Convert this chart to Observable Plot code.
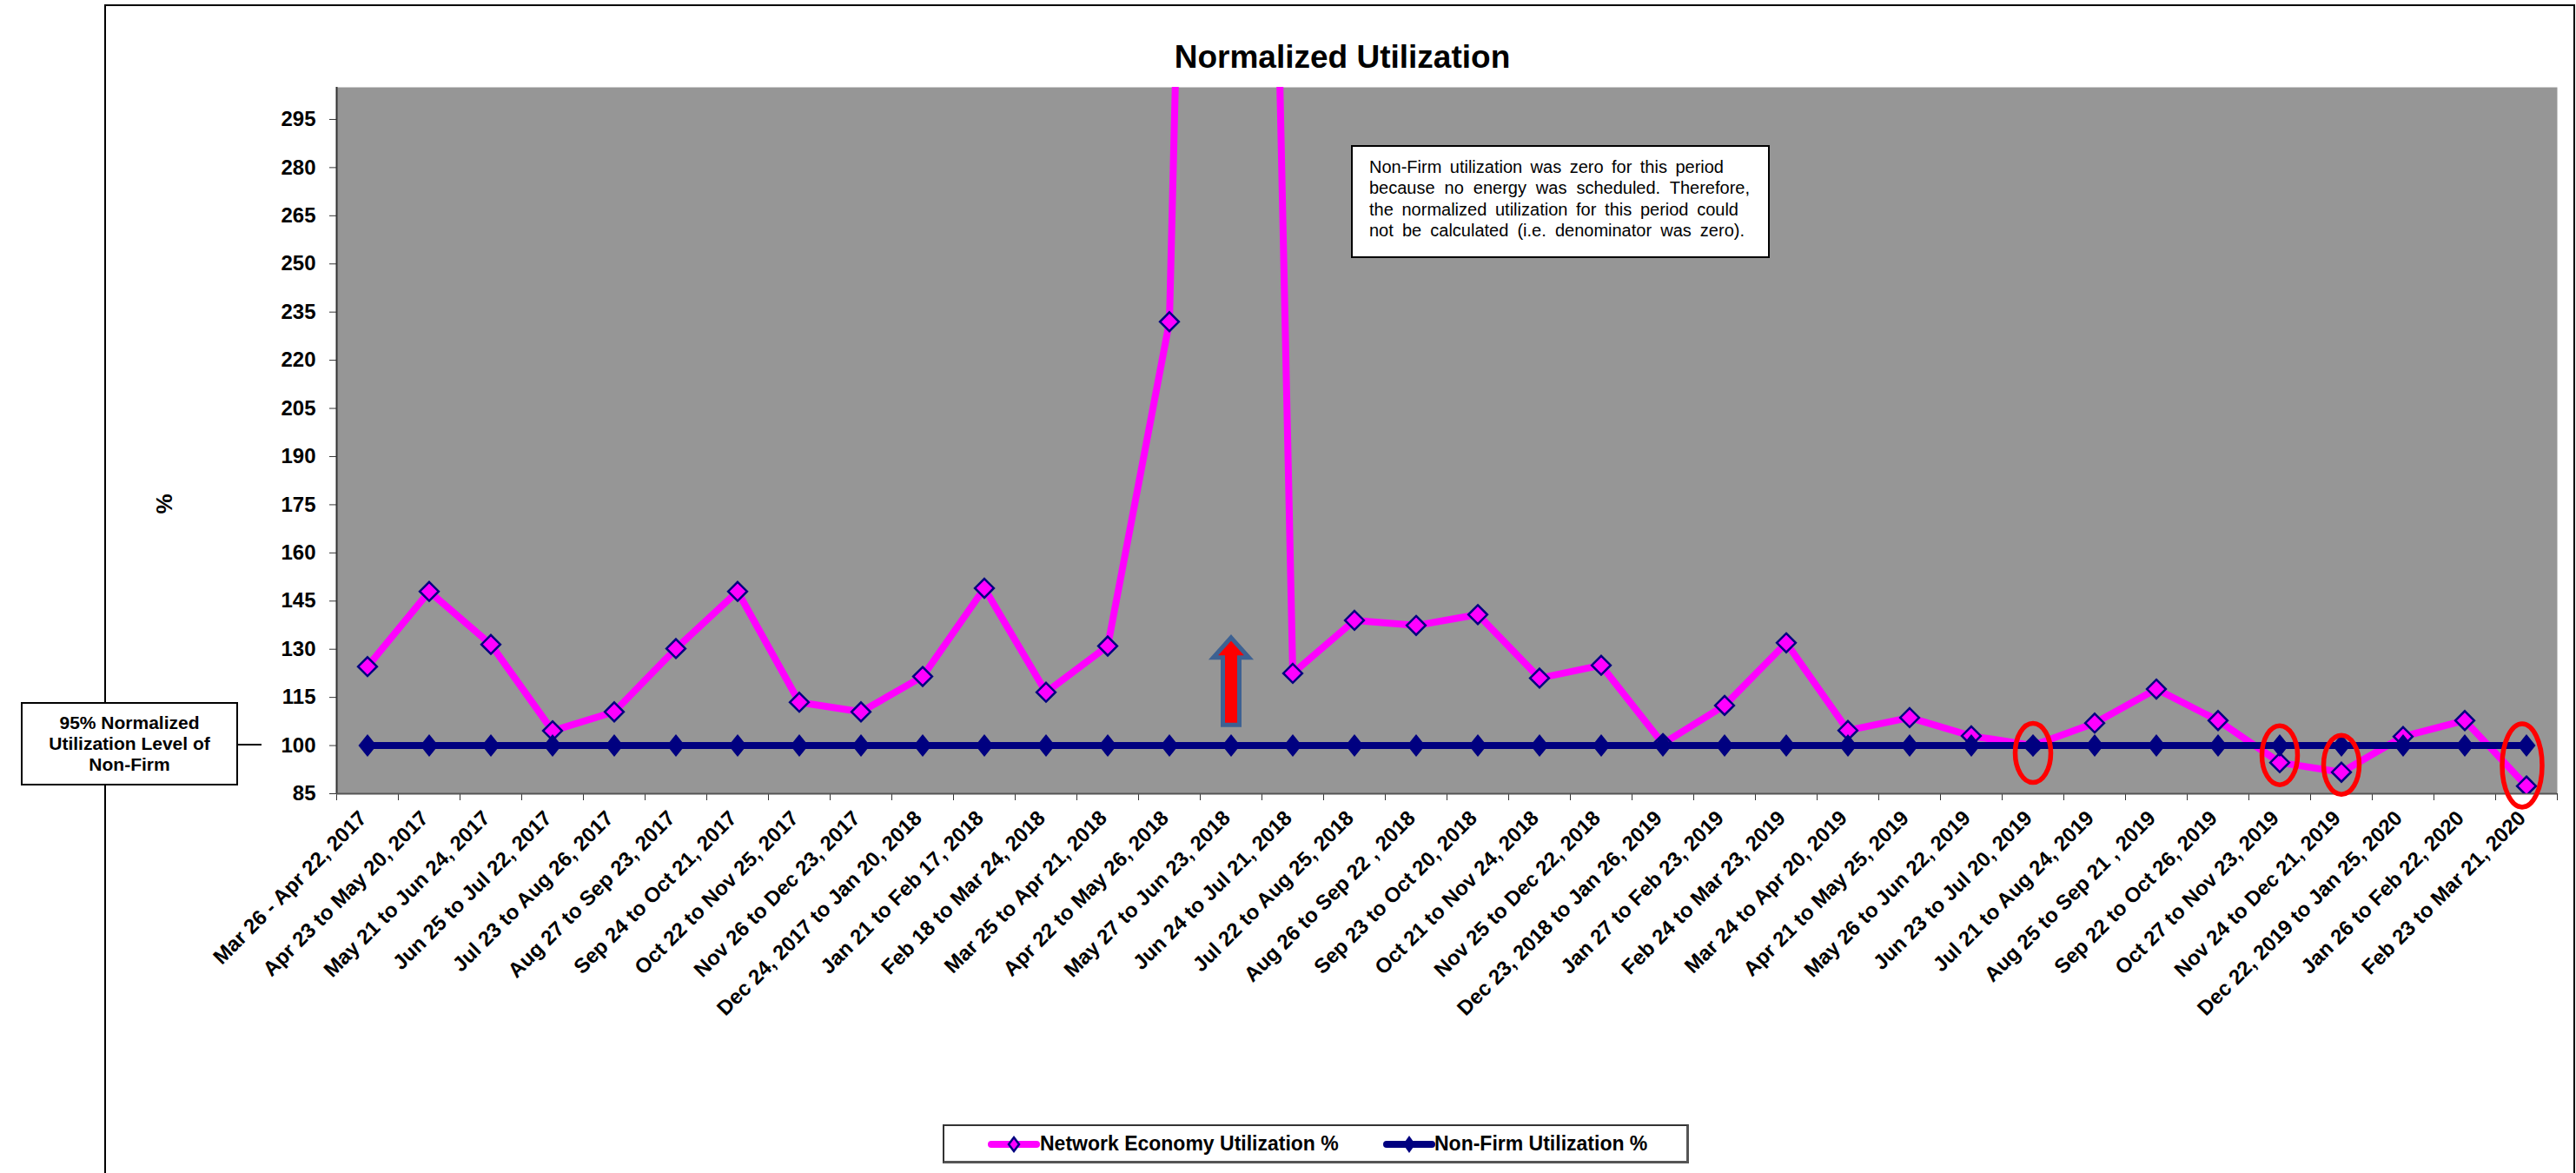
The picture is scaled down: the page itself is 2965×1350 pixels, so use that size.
<!DOCTYPE html>
<html><head><meta charset="utf-8">
<script src="https://cdn.jsdelivr.net/npm/d3@7"></script>
<script src="https://cdn.jsdelivr.net/npm/@observablehq/plot@0.6"></script>
<style>
html,body{margin:0;padding:0;background:#fff;}
#wrap{position:relative;width:2965px;height:1350px;overflow:hidden;font-family:"Liberation Sans",Arial,sans-serif;color:#000;}
#frame{position:absolute;left:120px;top:5px;width:2844px;height:1400px;border:2px solid #000;box-sizing:border-box;}
#chart{position:absolute;left:0;top:0;}
#title{position:absolute;left:1045px;width:1000px;top:44px;text-align:center;font-weight:bold;font-size:37px;line-height:44px;}
#note{position:absolute;left:1555px;top:167px;width:482px;height:130px;box-sizing:border-box;border:2px solid #000;background:#fff;padding:11px 0 0 19px;font-size:20px;line-height:24.3px;}
#note div{text-align:justify;text-align-last:justify;white-space:nowrap;}
#leftbox{position:absolute;left:24px;top:808px;width:250px;height:96px;box-sizing:border-box;border:2px solid #000;background:#fff;display:flex;align-items:center;justify-content:center;text-align:center;font-weight:bold;font-size:21px;line-height:23.7px;}
#connector{position:absolute;left:274px;width:27px;top:856px;border-top:2px solid #000;}
#ylabel{position:absolute;left:149px;width:80px;top:565px;height:30px;line-height:30px;text-align:center;font-weight:bold;font-size:26px;transform:rotate(-90deg);}
#legend{position:absolute;left:1085px;top:1294px;width:859px;height:45px;box-sizing:border-box;border:2px solid #333;border-bottom:3px solid #555;border-right:3px solid #555;background:#fff;}
.lg{position:absolute;top:0;height:41px;line-height:41px;font-weight:bold;font-size:23px;white-space:nowrap;}
.sw{position:absolute;top:8px;}
</style></head>
<body><div id="wrap">
<div id="frame"></div>
<div id="chart"></div>
<div id="title">Normalized Utilization</div>
<div id="ylabel">%</div>
<div id="note">
<div style="width:408px">Non-Firm utilization was zero for this period</div>
<div style="width:438px">because no energy was scheduled. Therefore,</div>
<div style="width:425px">the normalized utilization for this period could</div>
<div style="width:432px">not be calculated (i.e. denominator was zero).</div>
</div>
<div id="connector"></div>
<div id="leftbox"><div>95% Normalized<br>Utilization Level of<br>Non-Firm</div></div>
<div id="legend">
<svg class="sw" style="left:48px" width="64" height="26"><line x1="6" y1="13" x2="58" y2="13" stroke="#FF00FF" stroke-width="8" stroke-linecap="round"/><path d="M32,5L38,13L32,21L26,13Z" fill="#FF00FF" stroke="#000080" stroke-width="2.5"/></svg>
<div class="lg" style="left:110px">Network Economy Utilization %</div>
<svg class="sw" style="left:503px" width="64" height="26"><line x1="6" y1="13" x2="58" y2="13" stroke="#000080" stroke-width="8" stroke-linecap="round"/><path d="M32,3L39,13L32,23L25,13Z" fill="#000080"/></svg>
<div class="lg" style="left:564px">Non-Firm Utilization %</div>
</div>
</div>
<script>
const categories = [
  "Mar 26 - Apr 22, 2017","Apr 23 to May 20, 2017","May 21 to Jun 24, 2017","Jun 25 to Jul 22, 2017",
  "Jul 23 to Aug 26, 2017","Aug 27 to Sep 23, 2017","Sep 24 to Oct 21, 2017","Oct 22 to Nov 25, 2017",
  "Nov 26 to Dec 23, 2017","Dec 24, 2017 to Jan 20, 2018","Jan 21 to Feb 17, 2018","Feb 18 to Mar 24, 2018",
  "Mar 25 to Apr 21, 2018","Apr 22 to May 26, 2018","May 27 to Jun 23, 2018","Jun 24 to Jul 21, 2018",
  "Jul 22 to Aug 25, 2018","Aug 26 to Sep 22 , 2018","Sep 23 to Oct 20, 2018","Oct 21 to Nov 24, 2018",
  "Nov 25 to Dec 22, 2018","Dec 23, 2018 to Jan 26, 2019","Jan 27 to Feb 23, 2019","Feb 24 to Mar 23, 2019",
  "Mar 24 to Apr 20, 2019","Apr 21 to May 25, 2019","May 26 to Jun 22, 2019","Jun 23 to Jul 20, 2019",
  "Jul 21 to Aug 24, 2019","Aug 25 to Sep 21 , 2019","Sep 22 to Oct 26, 2019","Oct 27 to Nov 23, 2019",
  "Nov 24 to Dec 21, 2019","Dec 22, 2019 to Jan 25, 2020","Jan 26 to Feb 22, 2020","Feb 23 to Mar 21, 2020"
];
const networkEconomy = [
  124.6, 148, 131.5, 104.6, 110.5, 130.2, 148, 113.5, 110.5, 121.5, 149, 116.6,
  131, 232, 1000, 122.5, 139, 137.4, 140.8, 121, 125, 100.6, 112.5, 132,
  104.7, 108.7, 103, 100, 107, 117.6, 107.8, 94.7, 91.7, 102.8, 107.8, 87.4
];
const nonFirm = [
  100, 100, 100, 100, 100, 100, 100, 100, 100, 100, 100, 100,
  100, 100, 100, 100, 100, 100, 100, 100, 100, 100, 100, 100,
  100, 100, 100, 100, 100, 100, 100, 100, 100, 100, 100, 100
];
const yTicks = [85, 100, 115, 130, 145, 160, 175, 190, 205, 220, 235, 250, 265, 280, 295];
const circledCategories = ["Jun 23 to Jul 20, 2019", "Oct 27 to Nov 23, 2019", "Nov 24 to Dec 21, 2019"];
const circledValues = [97.7, 97, 94];
const circledLastCategory = ["Feb 23 to Mar 21, 2020"];
const circledLastValue = [93.8];
const arrowCategory = ["May 27 to Jun 23, 2018"];
const arrowValue = [120.1];

const data = categories.map((c, i) => ({i, c, net: networkEconomy[i], nf: nonFirm[i]}));
const idx = c => categories.indexOf(c);
const circles = circledCategories.map((c, k) => ({i: idx(c), v: circledValues[k]}));
const circlesLast = circledLastCategory.map((c, k) => ({i: idx(c), v: circledLastValue[k]}));
const arrows = arrowCategory.map((c, k) => ({i: idx(c), v: arrowValue[k]}));

const K = 0.5523;
function ellipseSymbol(rx, ry) {
  return {draw(ctx) {
    ctx.moveTo(rx, 0);
    ctx.bezierCurveTo(rx, K * ry, K * rx, ry, 0, ry);
    ctx.bezierCurveTo(-K * rx, ry, -rx, K * ry, -rx, 0);
    ctx.bezierCurveTo(-rx, -K * ry, -K * rx, -ry, 0, -ry);
    ctx.bezierCurveTo(K * rx, -ry, rx, -K * ry, rx, 0);
    ctx.closePath();
  }};
}
const navyDiamond = {draw(ctx) {
  ctx.moveTo(0, -13); ctx.lineTo(10.5, 0); ctx.lineTo(0, 13); ctx.lineTo(-10.5, 0); ctx.closePath();
}};
const blockArrow = {draw(ctx) {
  ctx.moveTo(0, -50); ctx.lineTo(20.5, -27); ctx.lineTo(9.5, -27); ctx.lineTo(9.5, 50.5);
  ctx.lineTo(-9.5, 50.5); ctx.lineTo(-9.5, -27); ctx.lineTo(-20.5, -27); ctx.closePath();
}};

const n = categories.length;
const plot = Plot.plot({
  width: 2965, height: 1270,
  marginLeft: 387, marginRight: 22, marginTop: 100, marginBottom: 357,
  x: {type: "linear", domain: [-0.5, n - 0.5]},
  y: {domain: [85, 305]},
  style: {fontFamily: '"Liberation Sans", Arial, sans-serif', fontWeight: "bold", fontSize: "24px", color: "#000", background: "transparent", overflow: "visible"},
  marks: [
    Plot.frame({fill: "#969696", stroke: "none"}),
    Plot.axisY({ticks: yTicks, tickSize: 8, tickPadding: 16, fontSize: 24, label: null, stroke: "#333"}),
    Plot.axisX({ticks: d3.range(n), tickFormat: i => categories[i], tickSize: 0, tickPadding: 24, dx: -5, tickRotate: -45, fontSize: 24, label: null}),
    Plot.axisX({ticks: d3.range(n + 1).map(k => k - 0.5), tickSize: 8, tickFormat: () => "", label: null, stroke: "#333"}),
    Plot.ruleX([-0.5], {stroke: "#333", strokeWidth: 2}),
    Plot.ruleY([85], {stroke: "#555", strokeWidth: 2}),
    Plot.line(data, {x: "i", y: "net", stroke: "#FF00FF", strokeWidth: 8, clip: true}),
    Plot.dot(data, {x: "i", y: "net", symbol: "diamond2", r: 9.8, fill: "#FF00FF", stroke: "#000080", strokeWidth: 2.5, clip: true}),
    Plot.line(data, {x: "i", y: "nf", stroke: "#000080", strokeWidth: 8}),
    Plot.dot(data, {x: "i", y: "nf", symbol: navyDiamond, fill: "#000080", stroke: "none"}),
    Plot.dot(circles, {x: "i", y: "v", symbol: ellipseSymbol(20.5, 34), fill: "none", stroke: "#FF0000", strokeWidth: 5.5}),
    Plot.dot(circlesLast, {x: "i", y: "v", dx: -5, symbol: ellipseSymbol(23, 48), fill: "none", stroke: "#FF0000", strokeWidth: 5.5}),
    Plot.dot(arrows, {x: "i", y: "v", symbol: blockArrow, fill: "#FF0000", stroke: "#3D6192", strokeWidth: 5, strokeLinejoin: "miter"})
  ]
});
document.getElementById("chart").appendChild(plot);
</script>
</body></html>
